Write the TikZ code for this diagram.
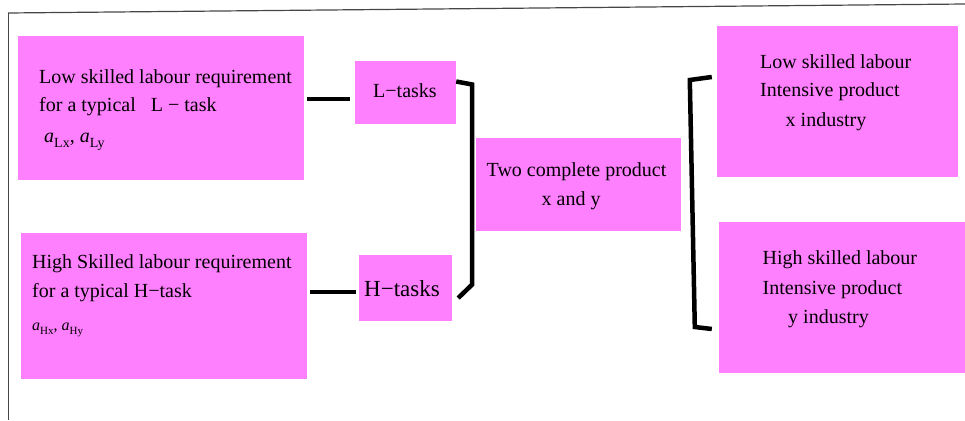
\documentclass[tikz,border=0pt]{standalone}
\usepackage{fontspec}
\setmainfont{Liberation Serif}
\definecolor{boxpink}{RGB}{255,128,255}
\definecolor{framegray}{RGB}{70,70,70}
\tikzset{
  box/.style={fill=boxpink, draw=none, inner sep=0pt},
  txt/.style={anchor=base west, inner sep=0pt, font=\fontsize{20}{24}\selectfont},
  conn/.style={line width=4.5pt, black},
  frame/.style={line width=1.2pt, framegray}
}
\newcommand{\sym}[3]{\textit{a}\raisebox{-0.28em}{\fontsize{#3}{#3}\selectfont #1}}
\begin{document}
\begin{tikzpicture}[x=1pt,y=-1pt]
\useasboundingbox (0,0) rectangle (965,420);
\draw[frame] (8,13) -- (965,4);
\draw[frame] (8.5,13) -- (8.5,420);

% boxes
\node[box, minimum width=286pt, minimum height=144pt] (A) at (161,108) {};
\node[box, minimum width=101pt, minimum height=63pt] (L) at (405.5,92.5) {};
\node[box, minimum width=286pt, minimum height=146pt] (B) at (164,306) {};
\node[box, minimum width=93pt, minimum height=66pt] (H) at (405.5,288) {};
\node[box, minimum width=205pt, minimum height=93pt] (M) at (578.5,184.5) {};
\node[box, minimum width=241pt, minimum height=151pt] (X) at (837.5,101.5) {};
\node[box, minimum width=246pt, minimum height=151pt] (Y) at (842,297.5) {};

% texts
\node[txt] (a1) at (39,83) {Low skilled labour requirement};
\node[txt] (a2) at (39,111.5) {for a typical \ \ L − task};
\node[txt] (a3) at (44,142) {\sym{Lx}{}{14}, \sym{Ly}{}{14}};

\node[txt] (b1) at (32,268) {High Skilled labour requirement};
\node[txt] (b2) at (32,297.5) {for a typical H−task};
\node[txt, font=\fontsize{16}{18}\selectfont] (b3) at (32,330) {\sym{Hx}{}{11}, \sym{Hy}{}{11}};

\node[txt] (l1) at (373,97.5) {L−tasks};
\node[txt, font=\fontsize{23}{26}\selectfont] (h1) at (364,296) {H−tasks};

\node[txt] (m1) at (486.5,176.5) {Two complete product};
\node[txt] (m2) at (541.5,205) {x and y};

\node[txt] (x1) at (760,68.3) {Low skilled labour};
\node[txt] (x2) at (760,96.7) {Intensive product};
\node[txt] (x3) at (785.5,126) {x industry};

\node[txt] (y1) at (762.5,264) {High skilled labour};
\node[txt] (y2) at (762.5,294) {Intensive product};
\node[txt] (y3) at (788,323.3) {y industry};

% connectors
\draw[conn] ([shift={(3,-9)}]A.east) -- ([shift={(-5,6.5)}]L.west);
\draw[conn] ([shift={(3,-14)}]B.east) -- ([shift={(-3,4)}]H.west);
\draw[conn] ([shift={(0,-11)}]L.east) -- ++(16,3) -- ++(0,200) -- ([shift={(6,10)}]H.east);
\draw[conn] ([shift={(-5,-24.5)}]X.west) -- ++(-22,3) -- ++(5,247) -- ([shift={(-7,31.5)}]Y.west);
\end{tikzpicture}
\end{document}
